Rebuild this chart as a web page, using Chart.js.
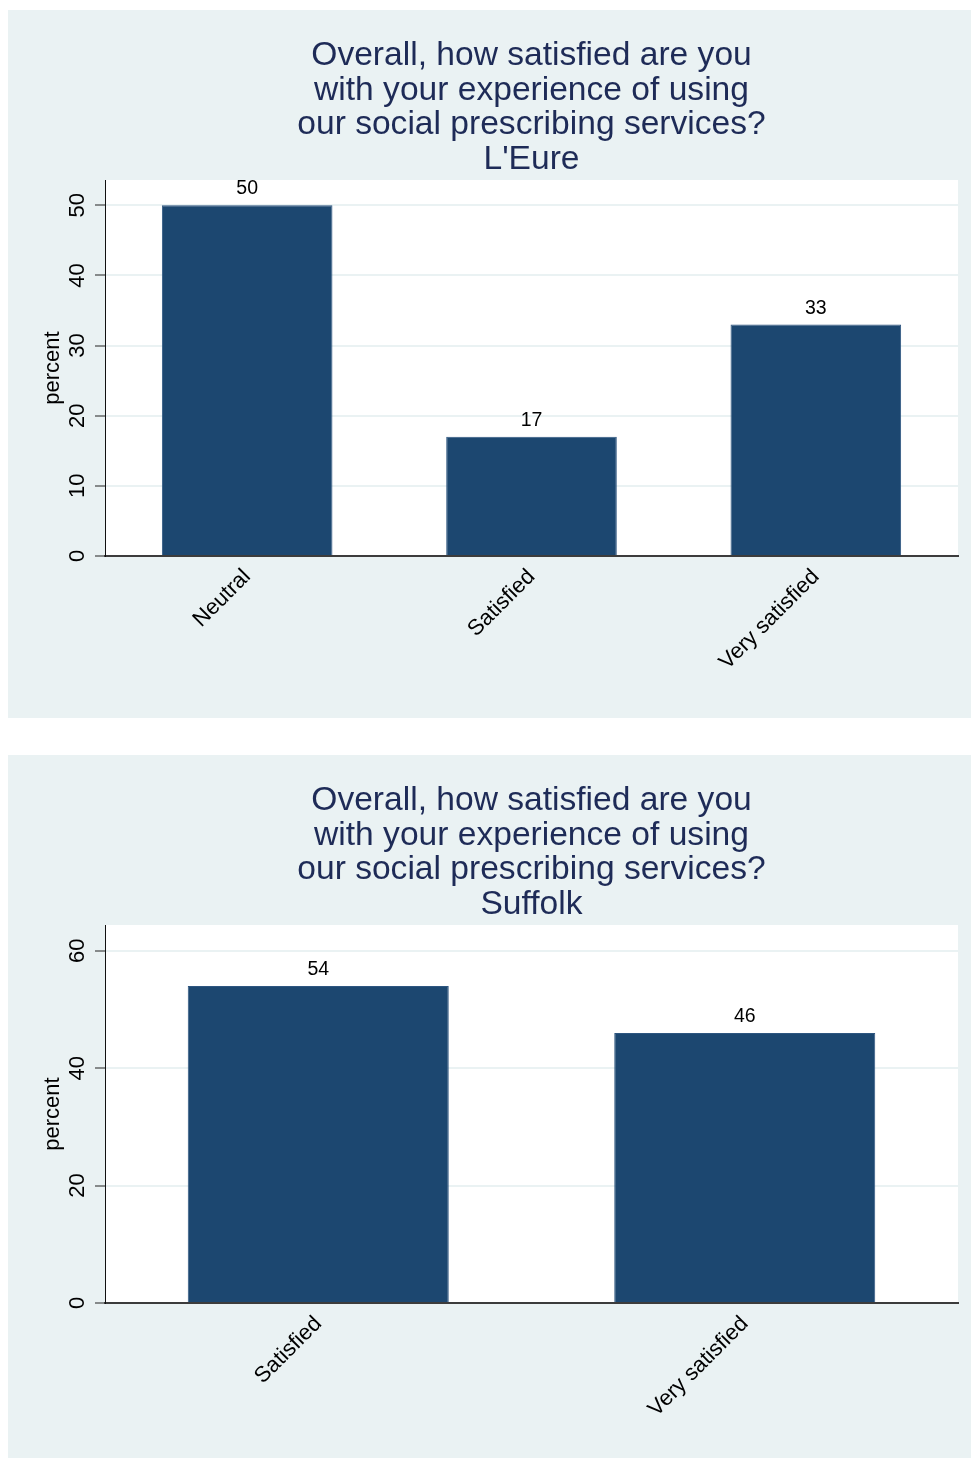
<!DOCTYPE html>
<html lang="en">
<head>
<meta charset="UTF-8">
<title>Satisfaction with social prescribing services</title>
<script src="https://cdn.jsdelivr.net/npm/chart.js"></script>
<style>
  body { margin: 0; background: #fff; width: 971px; height: 1458px; position: relative; overflow: hidden; }
  .panel { position: absolute; left: 8px; width: 963px; background: #eaf2f3; }
  .panel canvas { display: block; }
  #panelEure { top: 10px; height: 708px; }
  #panelSuffolk { top: 755px; height: 703px; }
</style>
</head>
<body>
<div class="panel" id="panelEure"><canvas id="eureChart" width="963" height="708"></canvas></div>
<div class="panel" id="panelSuffolk"><canvas id="suffolkChart" width="963" height="703"></canvas></div>

<script>
// question text shared by both panels, the area name goes on the last line
const questionLines = ['Overall, how satisfied are you', 'with your experience of using', 'our social prescribing services?'];

// L'Eure
const eureCategories = ['Neutral', 'Satisfied', 'Very satisfied'];
const eurePercent = [50, 17, 33];
const eureTicks = [0, 10, 20, 30, 40, 50];

// Suffolk
const suffolkCategories = ['Satisfied', 'Very satisfied'];
const suffolkPercent = [54, 46];
const suffolkTicks = [0, 20, 40, 60];

const FONT = '"Liberation Sans", Arial, Helvetica, sans-serif';
const BAR_COLOR = '#1c4770';

// white plot area, then titles / rotated y labels / value labels on top
const stataLook = {
  id: 'stataLook',
  beforeDraw(chart) {
    const a = chart.chartArea, ctx = chart.ctx;
    ctx.save();
    ctx.fillStyle = '#ffffff';
    ctx.fillRect(a.left, a.top, a.right - a.left, a.bottom - a.top);
    ctx.restore();
  },
  afterDraw(chart, args, opts) {
    const ctx = chart.ctx, a = chart.chartArea, y = chart.scales.y;
    ctx.save();

    // title
    ctx.fillStyle = '#1e2b57';
    ctx.font = '33.6px ' + FONT;
    ctx.textAlign = 'center';
    ctx.textBaseline = 'alphabetic';
    const cx = (a.left + a.right) / 2;
    questionLines.concat([opts.area]).forEach((line, i) => {
      ctx.fillText(line, cx, 55 + i * 34.5);
    });

    // y tick labels, turned to read upward
    ctx.fillStyle = '#000';
    ctx.font = '22px ' + FONT;
    opts.ticks.forEach(v => {
      ctx.save();
      ctx.translate(75.5, y.getPixelForValue(v));
      ctx.rotate(-Math.PI / 2);
      ctx.fillText(String(v), 0, 0);
      ctx.restore();
    });

    // y axis title
    ctx.save();
    ctx.translate(51, (a.top + a.bottom) / 2);
    ctx.rotate(-Math.PI / 2);
    ctx.fillText('percent', 0, 0);
    ctx.restore();

    // value above each bar
    ctx.font = '19.5px ' + FONT;
    const meta = chart.getDatasetMeta(0);
    meta.data.forEach((bar, i) => {
      const v = chart.data.datasets[0].data[i];
      ctx.fillText(String(v), bar.x, bar.y - 11);
    });

    ctx.restore();
  }
};

function makeChart(canvasId, area, categories, values, ticks, yMax, xAxisHeight, barPct) {
  return new Chart(document.getElementById(canvasId), {
    type: 'bar',
    data: {
      labels: categories,
      datasets: [{
        data: values,
        backgroundColor: BAR_COLOR,
        borderColor: '#2e5680',
        borderWidth: 1,
        barPercentage: barPct,
        categoryPercentage: 1
      }]
    },
    options: {
      responsive: false,
      animation: false,
      layout: { padding: { top: 170, right: 13, left: 0, bottom: 0 } },
      plugins: {
        legend: { display: false },
        tooltip: { enabled: false },
        stataLook: { area: area, ticks: ticks }
      },
      scales: {
        x: {
          afterFit: s => { s.height = xAxisHeight; },
          grid: { display: false },
          border: { display: true, color: '#3c3c3c', width: 2 },
          ticks: {
            autoSkip: false,
            minRotation: 45,
            maxRotation: 45,
            padding: 0,
            color: '#000',
            font: { family: FONT, size: 22 }
          }
        },
        y: {
          min: 0,
          max: yMax,
          afterFit: s => { s.width = 97; },
          afterBuildTicks: s => { s.ticks = ticks.map(v => ({ value: v })); },
          ticks: { display: false },
          grid: { color: '#eaf2f3', lineWidth: 2, tickLength: 10, tickColor: '#222', tickWidth: 1 },
          border: { display: true, color: '#111', width: 1 }
        }
      }
    },
    plugins: [stataLook]
  });
}

makeChart('eureChart', "L'Eure", eureCategories, eurePercent, eureTicks, 53.6, 162, 0.6);
makeChart('suffolkChart', 'Suffolk', suffolkCategories, suffolkPercent, suffolkTicks, 64.4, 155, 0.612);
</script>
</body>
</html>
